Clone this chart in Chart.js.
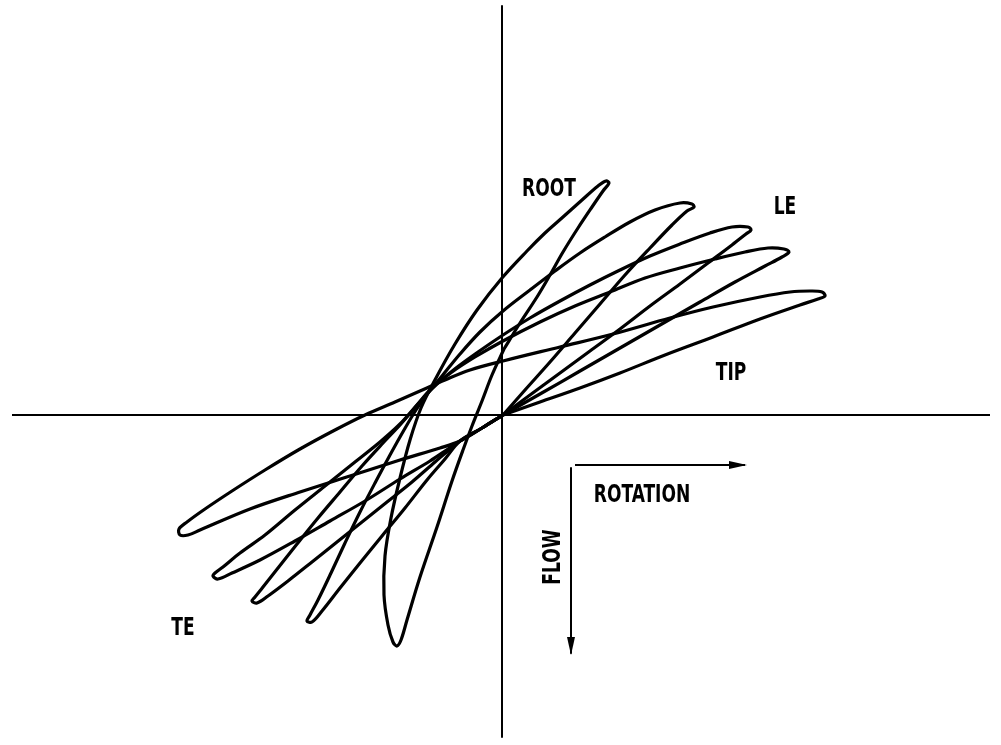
<!DOCTYPE html>
<html>
<head>
<meta charset="utf-8">
<script src="https://cdn.jsdelivr.net/npm/chart.js@4.4.1/dist/chart.umd.min.js"></script>
<style>
  html, body { margin: 0; padding: 0; background: #ffffff; }
  #wrap { width: 1001px; height: 745px; position: relative; }
</style>
</head>
<body>
<div id="wrap"><canvas id="c"></canvas></div>
<script>
// Flow vs. rotation loops at five stations (ROOT ... TIP), arbitrary units.
// Each loop is listed as [rotation, flow] pairs, traced once around.
const rootLoop = [
  [0.02,0.66],[0.18,0.92],[0.35,1.18],[0.48,1.40],[0.61,1.63],[0.76,1.87],[0.90,2.08],[1.01,2.24],
  [1.07,2.32],[1.04,2.34],[0.96,2.29],[0.80,2.15],[0.61,1.98],[0.43,1.82],[0.25,1.64],[0.00,1.37],
  [-0.25,1.05],[-0.47,0.71],[-0.66,0.37],[-0.81,0.07],[-0.92,-0.25],[-1.02,-0.63],[-1.11,-1.03],
  [-1.17,-1.41],[-1.18,-1.80],[-1.14,-2.10],[-1.09,-2.27],[-1.05,-2.31],[-1.01,-2.25],[-0.95,-2.05],
  [-0.82,-1.62],[-0.65,-1.12],[-0.50,-0.66],[-0.39,-0.35],[-0.30,-0.11],[-0.20,0.14],[-0.10,0.40],
  [0.02,0.66]
];
const loop2 = [
  [0.01,0.00],[0.23,0.25],[0.48,0.53],[0.73,0.82],[0.98,1.11],[1.23,1.40],[1.48,1.67],[1.70,1.90],
  [1.85,2.04],[1.92,2.08],[1.90,2.11],[1.78,2.12],[1.53,2.05],[1.28,1.93],[1.03,1.78],[0.78,1.62],
  [0.53,1.44],[0.28,1.25],[0.01,1.04],[-0.22,0.83],[-0.42,0.61],[-0.60,0.39],[-0.74,0.22],[-0.86,0.05],
  [-0.98,-0.15],[-1.12,-0.40],[-1.27,-0.68],[-1.42,-0.97],[-1.57,-1.28],[-1.71,-1.58],[-1.84,-1.85],
  [-1.92,-2.00],[-1.95,-2.06],[-1.90,-2.07],[-1.80,-1.96],[-1.62,-1.73],[-1.42,-1.48],[-1.20,-1.21],
  [-0.97,-0.93],[-0.75,-0.65],[-0.57,-0.44],[-0.42,-0.26],[-0.20,-0.13],[0.01,0.00]
];
const leLoop = [
  [0.01,0.00],[0.28,0.20],[0.58,0.42],[0.88,0.64],[1.18,0.86],[1.48,1.09],[1.78,1.31],[2.06,1.52],
  [2.30,1.70],[2.44,1.81],[2.49,1.85],[2.46,1.88],[2.30,1.88],[2.08,1.82],[1.78,1.71],[1.48,1.59],
  [1.18,1.45],[0.88,1.30],[0.58,1.14],[0.28,0.97],[0.01,0.80],[-0.24,0.63],[-0.46,0.47],[-0.64,0.32],
  [-0.77,0.19],[-0.89,0.05],[-1.02,-0.10],[-1.19,-0.28],[-1.40,-0.51],[-1.62,-0.77],[-1.84,-1.03],
  [-2.05,-1.29],[-2.24,-1.53],[-2.39,-1.72],[-2.47,-1.82],[-2.50,-1.86],[-2.45,-1.88],[-2.34,-1.81],
  [-2.14,-1.66],[-1.90,-1.47],[-1.65,-1.27],[-1.40,-1.07],[-1.15,-0.87],[-0.90,-0.67],[-0.67,-0.47],
  [-0.54,-0.36],[-0.42,-0.26],[-0.20,-0.13],[0.01,0.00]
];
const loop4 = [
  [0.01,0.00],[0.38,0.21],[0.78,0.44],[1.18,0.67],[1.58,0.90],[1.98,1.13],[2.33,1.33],[2.63,1.49],
  [2.80,1.58],[2.87,1.63],[2.82,1.66],[2.66,1.67],[2.43,1.63],[2.13,1.56],[1.78,1.47],[1.43,1.37],
  [1.08,1.23],[0.73,1.09],[0.38,0.93],[0.01,0.74],[-0.27,0.58],[-0.50,0.43],[-0.70,0.27],[-0.86,0.09],
  [-1.02,-0.09],[-1.22,-0.27],[-1.47,-0.47],[-1.77,-0.71],[-2.07,-0.95],[-2.37,-1.20],[-2.62,-1.38],
  [-2.79,-1.52],[-2.87,-1.58],[-2.89,-1.61],[-2.84,-1.64],[-2.70,-1.58],[-2.42,-1.45],[-2.07,-1.26],
  [-1.72,-1.06],[-1.37,-0.86],[-1.02,-0.64],[-0.72,-0.46],[-0.54,-0.34],[-0.42,-0.26],[-0.20,-0.13],
  [0.01,0.00]
];
const tipLoop = [
  [0.01,0.00],[0.38,0.13],[0.78,0.27],[1.18,0.42],[1.63,0.60],[2.11,0.78],[2.58,0.96],[2.98,1.10],
  [3.16,1.16],[3.23,1.19],[3.20,1.23],[3.08,1.24],[2.88,1.23],[2.58,1.18],[2.11,1.08],[1.68,0.97],
  [1.11,0.81],[0.58,0.68],[0.01,0.54],[-0.32,0.45],[-0.57,0.35],[-0.82,0.24],[-1.07,0.13],[-1.37,0.00],
  [-1.67,-0.15],[-2.02,-0.34],[-2.37,-0.55],[-2.70,-0.76],[-2.97,-0.94],[-3.15,-1.07],[-3.23,-1.14],
  [-3.22,-1.20],[-3.14,-1.20],[-3.02,-1.15],[-2.52,-0.94],[-2.02,-0.77],[-1.52,-0.61],[-1.02,-0.45],
  [-0.62,-0.33],[-0.42,-0.26],[-0.20,-0.13],[0.01,0.00]
];

// Reference axes through the origin
const horizAxis = [[-4.90, 0], [4.88, 0]];
const vertAxis  = [[0, 4.09], [0, -3.22]];

// Sign-convention arrows
const rotationArrow = [[0.73, -0.50], [2.43, -0.50]];
const flowArrow     = [[0.69, -0.53], [0.69, -2.38]];

// Text annotations: [text, x, y, rotation in degrees]
const annotations = [
  ['ROOT', 0.47, 2.27, 0],
  ['LE', 2.83, 2.09, 0],
  ['TIP', 2.29, 0.43, 0],
  ['TE', -3.19, -2.12, 0],
  ['ROTATION', 1.40, -0.79, 0],
  ['FLOW', 0.50, -1.42, -90]
];

const toXY = arr => arr.map(p => ({ x: p[0], y: p[1] }));

function curve(data, width, tension) {
  return {
    data: toXY(data),
    showLine: true,
    borderColor: '#000000',
    borderWidth: width,
    pointRadius: 0,
    tension: tension,
    fill: false
  };
}

const arrowHeads = {
  id: 'arrowHeads',
  afterDatasetsDraw(chart) {
    const ctx = chart.ctx;
    const xs = chart.scales.x, ys = chart.scales.y;
    [rotationArrow, flowArrow].forEach(a => {
      const x1 = xs.getPixelForValue(a[0][0]), y1 = ys.getPixelForValue(a[0][1]);
      const x2 = xs.getPixelForValue(a[1][0]), y2 = ys.getPixelForValue(a[1][1]);
      const ang = Math.atan2(y2 - y1, x2 - x1);
      const len = 16, half = 4;
      ctx.save();
      ctx.translate(x2, y2);
      ctx.rotate(ang);
      ctx.beginPath();
      ctx.moveTo(2, 0);
      ctx.lineTo(-len, -half);
      ctx.lineTo(-len, half);
      ctx.closePath();
      ctx.fillStyle = '#000';
      ctx.fill();
      ctx.restore();
    });
  }
};

const textLabels = {
  id: 'textLabels',
  afterDatasetsDraw(chart) {
    const ctx = chart.ctx;
    const xs = chart.scales.x, ys = chart.scales.y;
    annotations.forEach(([t, x, y, r]) => {
      ctx.save();
      ctx.translate(xs.getPixelForValue(x), ys.getPixelForValue(y));
      ctx.rotate(r * Math.PI / 180);
      ctx.scale(0.76, 1);
      ctx.font = 'bold 25px "DejaVu Sans Condensed", "DejaVu Sans", sans-serif';
      ctx.fillStyle = '#000';
      ctx.textAlign = 'center';
      ctx.textBaseline = 'middle';
      ctx.fillText(t, 0, 1);
      ctx.restore();
    });
  }
};

new Chart(document.getElementById('c'), {
  type: 'scatter',
  data: {
    datasets: [
      curve(horizAxis, 2, 0),
      curve(vertAxis, 2, 0),
      curve(rotationArrow, 2, 0),
      curve(flowArrow, 2, 0),
      curve(rootLoop, 3.2, 0.35),
      curve(loop2, 3.2, 0.35),
      curve(leLoop, 3.2, 0.35),
      curve(loop4, 3.2, 0.35),
      curve(tipLoop, 3.2, 0.35)
    ]
  },
  options: {
    responsive: true,
    maintainAspectRatio: false,
    animation: false,
    layout: { padding: 0 },
    plugins: { legend: { display: false }, tooltip: { enabled: false }, title: { display: false } },
    scales: {
      x: { type: 'linear', min: -5.02, max: 4.99, display: false },
      y: { type: 'linear', min: -3.30, max: 4.15, display: false }
    },
    elements: { line: { capBezierPoints: false, borderJoinStyle: 'round' } }
  },
  plugins: [arrowHeads, textLabels]
});
</script>
</body>
</html>
